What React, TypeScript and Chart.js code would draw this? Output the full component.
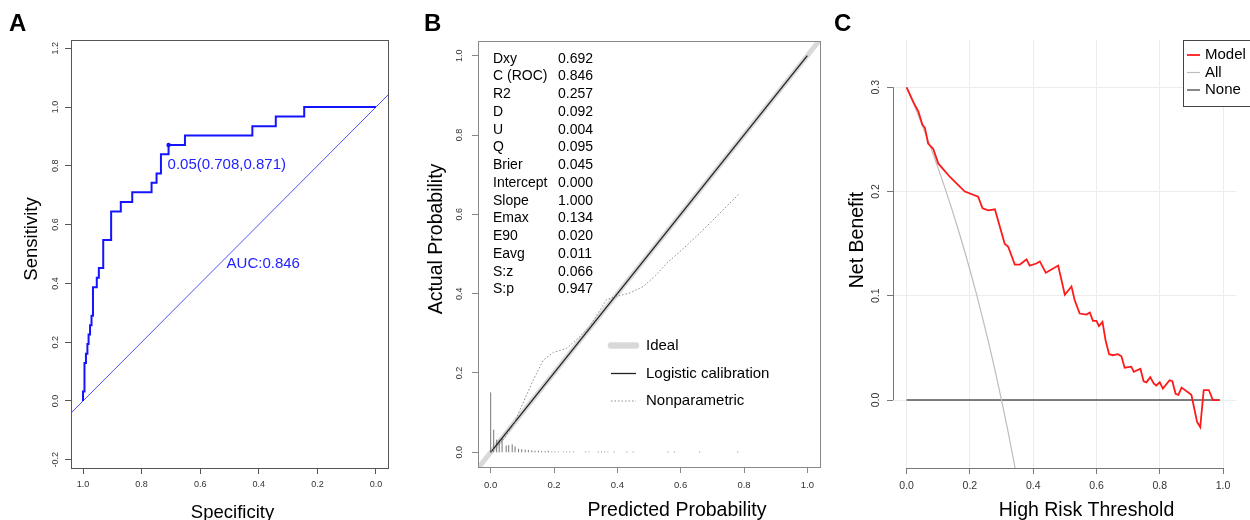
import React, { useEffect, useRef } from "react";
import { Chart, registerables } from "chart.js";

Chart.register(...registerables);

const FONT = '"Liberation Sans", Arial, Helvetica, sans-serif';

// ---------------- Panel A: ROC curve ----------------
const rocSpecificity = [1.0, 1.0, 0.995, 0.99, 0.985, 0.981, 0.976, 0.971, 0.966, 0.953, 0.946, 0.931, 0.904, 0.871, 0.832, 0.766, 0.749, 0.734, 0.708, 0.652, 0.422, 0.342, 0.245, 0.0];
const rocSensitivity = [0.0, 0.032, 0.129, 0.161, 0.194, 0.226, 0.258, 0.29, 0.387, 0.419, 0.452, 0.548, 0.645, 0.677, 0.71, 0.742, 0.774, 0.839, 0.871, 0.903, 0.935, 0.968, 1.0, 1.0];
const rocChanceSpecificity = [1.1, -0.1];
const rocChanceSensitivity = [-0.1, 1.1];
const rocThresholdSpec = 0.708;
const rocThresholdSens = 0.871;
const rocThresholdLabel = "0.05(0.708,0.871)";
const rocAucLabel = "AUC:0.846";
const rocAucAt = [0.51, 0.466];
const rocXTicks = [1.0, 0.8, 0.6, 0.4, 0.2, 0.0];
const rocYTicks = [-0.2, 0.0, 0.2, 0.4, 0.6, 0.8, 1.0, 1.2];

// ---------------- Panel B: calibration ----------------
const calIdealX = [-0.1, 1.1];
const calIdealY = [-0.1, 1.1];
const calLogisticX = [0.0, 1.0];
const calLogisticY = [0.0, 1.0];
const calNonparX = [0.0, 0.04, 0.07, 0.093, 0.135, 0.166, 0.198, 0.24, 0.282, 0.314, 0.34, 0.366, 0.398, 0.44, 0.482, 0.52, 0.556, 0.61, 0.661, 0.72, 0.785];
const calNonparY = [0.0, 0.032, 0.066, 0.108, 0.183, 0.232, 0.252, 0.262, 0.292, 0.318, 0.352, 0.385, 0.393, 0.402, 0.418, 0.445, 0.477, 0.515, 0.553, 0.6, 0.652];
const calSpikeX = [0.0, 0.0095, 0.019, 0.027, 0.036, 0.049, 0.057, 0.068, 0.077, 0.088, 0.098, 0.109, 0.119, 0.13, 0.14, 0.151, 0.161, 0.172, 0.182, 0.193, 0.203, 0.214, 0.23, 0.24, 0.25, 0.262, 0.3, 0.31, 0.34, 0.35, 0.36, 0.37, 0.39, 0.43, 0.45, 0.56, 0.58, 0.66, 0.78];
const calSpikeH = [0.151, 0.057, 0.032, 0.032, 0.036, 0.017, 0.018, 0.02, 0.015, 0.009, 0.008, 0.007, 0.006, 0.005, 0.004, 0.004, 0.003, 0.003, 0.004, 0.002, 0.002, 0.002, 0.002, 0.002, 0.002, 0.002, 0.002, 0.002, 0.002, 0.002, 0.002, 0.002, 0.002, 0.002, 0.002, 0.002, 0.002, 0.002, 0.002];
const calStatNames = ["Dxy", "C (ROC)", "R2", "D", "U", "Q", "Brier", "Intercept", "Slope", "Emax", "E90", "Eavg", "S:z", "S:p"];
const calStatValues = ["0.692", "0.846", "0.257", "0.092", "0.004", "0.095", "0.045", "0.000", "1.000", "0.134", "0.020", "0.011", "0.066", "0.947"];
const calTicks = [0.0, 0.2, 0.4, 0.6, 0.8, 1.0];

// ---------------- Panel C: decision curve ----------------
const dcaModelT = [0, 0.021, 0.037, 0.05, 0.058, 0.068, 0.084, 0.1, 0.137, 0.184, 0.226, 0.24, 0.258, 0.279, 0.31, 0.321, 0.342, 0.358, 0.379, 0.389, 0.41, 0.421, 0.44, 0.479, 0.5, 0.521, 0.531, 0.547, 0.568, 0.579, 0.589, 0.6, 0.608, 0.619, 0.629, 0.64, 0.652, 0.668, 0.679, 0.689, 0.71, 0.718, 0.739, 0.749, 0.758, 0.77, 0.781, 0.789, 0.8, 0.81, 0.831, 0.84, 0.85, 0.859, 0.869, 0.9, 0.918, 0.928, 0.939, 0.955, 0.968, 0.989];
const dcaModelNB = [0.3, 0.286, 0.277, 0.264, 0.261, 0.246, 0.241, 0.227, 0.214, 0.2, 0.195, 0.184, 0.182, 0.183, 0.15, 0.147, 0.13, 0.13, 0.135, 0.129, 0.131, 0.133, 0.122, 0.129, 0.101, 0.109, 0.096, 0.083, 0.082, 0.084, 0.076, 0.076, 0.071, 0.075, 0.057, 0.044, 0.043, 0.044, 0.042, 0.031, 0.032, 0.027, 0.03, 0.018, 0.017, 0.022, 0.016, 0.014, 0.017, 0.011, 0.019, 0.018, 0.006, 0.005, 0.012, 0.005, -0.021, -0.026, 0.0096, 0.0096, 0.0, 0.0];
const dcaAllT = [0, 0.02, 0.04, 0.06, 0.08, 0.1, 0.12, 0.14, 0.16, 0.18, 0.2, 0.22, 0.24, 0.26, 0.28, 0.3, 0.32, 0.34, 0.36];
const dcaAllNB = [0.3, 0.2857, 0.2708, 0.2553, 0.2391, 0.2222, 0.2045, 0.186, 0.1667, 0.1463, 0.125, 0.1026, 0.0789, 0.0541, 0.0278, 0.0, -0.0294, -0.0606, -0.0938];
const dcaNoneT = [0, 0.99];
const dcaNoneNB = [0, 0];
const dcaXTicks = [0.0, 0.2, 0.4, 0.6, 0.8, 1.0];
const dcaYTicks = [0.0, 0.1, 0.2, 0.3];

// ---------------- helpers ----------------
const pts = (xs: number[], ys: number[]) => xs.map((x, i) => ({ x, y: ys[i] }));

function drawRotatedTicks(ctx: CanvasRenderingContext2D, scale: any, x: number, values: number[], size: number) {
  ctx.save();
  ctx.font = `${size}px ${FONT}`;
  ctx.fillStyle = "#333";
  ctx.textAlign = "center";
  ctx.textBaseline = "middle";
  values.forEach((v) => {
    ctx.save();
    ctx.translate(x, scale.getPixelForValue(v));
    ctx.rotate(-Math.PI / 2);
    ctx.fillText(v.toFixed(1), 0, 0);
    ctx.restore();
  });
  ctx.restore();
}

// axis titles: t = {x, xCenter, xBase, y, yCenter, yBase, size}
function drawTitles(ctx: CanvasRenderingContext2D, t: any) {
  ctx.save();
  ctx.fillStyle = "#000";
  ctx.font = `${t.size}px ${FONT}`;
  ctx.textAlign = "center";
  ctx.textBaseline = "alphabetic";
  ctx.fillText(t.x, t.xCenter, t.xBase);
  ctx.translate(t.yBase, t.yCenter);
  ctx.rotate(-Math.PI / 2);
  ctx.fillText(t.y, 0, 0);
  ctx.restore();
}

function xScale(o: any) {
  return {
    type: "linear",
    min: o.min,
    max: o.max,
    reverse: !!o.reverse,
    afterBuildTicks: (s: any) => { s.ticks = o.ticks.map((v: number) => ({ value: v })); },
    afterFit: (s: any) => { s.height = o.height; },
    border: { display: false },
    grid: { drawOnChartArea: !!o.gridColor, color: o.gridColor || o.tickColor, tickColor: o.tickColor, drawTicks: true, tickLength: 6, lineWidth: 1 },
    ticks: { autoSkip: false, maxRotation: 0, minRotation: 0, padding: o.tickPad, color: "#333", font: { family: FONT, size: o.tickSize }, callback: (v: any) => Number(v).toFixed(1) },
    title: { display: false },
  };
}

function yScale(o: any) {
  return {
    type: "linear",
    min: o.min,
    max: o.max,
    afterBuildTicks: (s: any) => { s.ticks = o.ticks.map((v: number) => ({ value: v })); },
    afterFit: (s: any) => { s.width = o.width; },
    border: { display: false },
    grid: { drawOnChartArea: !!o.gridColor, color: o.gridColor || o.tickColor, tickColor: o.tickColor, drawTicks: true, tickLength: 6, lineWidth: 1 },
    ticks: { display: false },
    title: { display: false },
  };
}

const commonOptions = (padding: any, scales: any) => ({
  animation: false,
  responsive: false,
  maintainAspectRatio: false,
  layout: { padding },
  plugins: { legend: { display: false }, tooltip: { enabled: false } },
  elements: { point: { radius: 0 }, line: { tension: 0 } },
  scales,
});

// ---------------- Panel A config ----------------
function buildA(): any {
  const plugin = {
    id: "panelA",
    afterDraw(chart: any) {
      const { ctx, chartArea: a, scales } = chart;
      const { x, y } = scales;
      ctx.save();
      ctx.strokeStyle = "#555";
      ctx.lineWidth = 1;
      ctx.strokeRect(Math.round(a.left) + 0.5, Math.round(a.top) + 0.5, Math.round(a.right - a.left), Math.round(a.bottom - a.top));
      drawRotatedTicks(ctx, y, a.left - 15, rocYTicks, 9);
      ctx.fillStyle = "#2222ff";
      ctx.font = `15px ${FONT}`;
      ctx.textAlign = "left";
      ctx.textBaseline = "middle";
      ctx.fillText(rocThresholdLabel, x.getPixelForValue(rocThresholdSpec) - 1, y.getPixelForValue(rocThresholdSens) + 20);
      ctx.fillText(rocAucLabel, x.getPixelForValue(rocAucAt[0]), y.getPixelForValue(rocAucAt[1]));
      ctx.restore();
      drawTitles(ctx, { x: "Specificity", xCenter: (a.left + a.right) / 2 + 3, xBase: 518, y: "Sensitivity", yCenter: 239, yBase: 37, size: 18.5 });
    },
  };
  return {
    type: "scatter",
    data: {
      datasets: [
        { label: "threshold", data: [{ x: rocThresholdSpec, y: rocThresholdSens }], pointRadius: 2.2, pointBackgroundColor: "#1414ff", pointBorderWidth: 0 },
        { label: "ROC", data: pts(rocSpecificity, rocSensitivity), showLine: true, stepped: "before", borderColor: "#1414ff", borderWidth: 2, pointRadius: 0 },
        { label: "chance", data: pts(rocChanceSpecificity, rocChanceSensitivity), showLine: true, borderColor: "#5050ff", borderWidth: 1, pointRadius: 0 },
      ],
    },
    options: commonOptions({ left: 0, top: 40, right: 22, bottom: 0 }, {
      x: xScale({ min: -0.041, max: 1.041, reverse: true, ticks: rocXTicks, height: 52, tickColor: "#555", tickPad: 5, tickSize: 9 }),
      y: yScale({ min: -0.228, max: 1.228, ticks: rocYTicks, width: 71, tickColor: "#555" }),
    }),
    plugins: [plugin],
  };
}

// ---------------- Panel B config ----------------
function buildB(): any {
  const plugin = {
    id: "panelB",
    afterDraw(chart: any) {
      const { ctx, chartArea: a, scales } = chart;
      const { y } = scales;
      const ds = chart.data.datasets;
      ctx.save();
      ctx.strokeStyle = "#888";
      ctx.lineWidth = 1;
      ctx.strokeRect(Math.round(a.left) + 0.5, Math.round(a.top) + 0.5, Math.round(a.right - a.left), Math.round(a.bottom - a.top));
      drawRotatedTicks(ctx, y, a.left - 18, calTicks, 9);
      // statistics table
      ctx.fillStyle = "#000";
      ctx.font = `14px ${FONT}`;
      ctx.textAlign = "left";
      ctx.textBaseline = "middle";
      calStatNames.forEach((n, i) => {
        const yy = a.top + 17.8 + i * 17.75;
        ctx.fillText(n, a.left + 15, yy);
        ctx.fillText(calStatValues[i], a.left + 80, yy);
      });
      // legend
      const lx0 = a.left + 133, lx1 = a.left + 158, tx = a.left + 168;
      const rows = [
        { text: "Ideal", d: ds[3], y: a.top + 304.5 },
        { text: "Logistic calibration", d: ds[1], y: a.top + 332.5 },
        { text: "Nonparametric", d: ds[0], y: a.top + 360 },
      ];
      ctx.font = `15px ${FONT}`;
      rows.forEach((r) => {
        ctx.save();
        ctx.strokeStyle = r.d.borderColor;
        ctx.lineWidth = r.d.borderWidth + (r.text === "Ideal" ? 1.5 : 0);
        ctx.lineCap = r.d.borderCapStyle || "butt";
        ctx.setLineDash(r.d.borderDash || []);
        ctx.beginPath();
        ctx.moveTo(lx0, r.y);
        ctx.lineTo(lx1, r.y);
        ctx.stroke();
        ctx.restore();
        ctx.fillText(r.text, tx, r.y);
      });
      ctx.restore();
      drawTitles(ctx, { x: "Predicted Probability", xCenter: (a.left + a.right) / 2 + 28, xBase: 516, y: "Actual Probability", yCenter: 239, yBase: 32, size: 19.5 });
    },
  };
  const spikes: any[] = [];
  calSpikeX.forEach((p, i) => {
    spikes.push({ x: p, y: 0 }, { x: p, y: calSpikeH[i] }, { x: p, y: null });
  });
  return {
    type: "scatter",
    data: {
      datasets: [
        { label: "Nonparametric", data: pts(calNonparX, calNonparY), showLine: true, borderColor: "#8a8a8a", borderWidth: 1, borderDash: [1.5, 2], pointRadius: 0 },
        { label: "Logistic calibration", data: pts(calLogisticX, calLogisticY), showLine: true, borderColor: "#222", borderWidth: 1.3, pointRadius: 0 },
        { label: "spikes", data: spikes, showLine: true, spanGaps: false, borderColor: "#777", borderWidth: 1, pointRadius: 0 },
        { label: "Ideal", data: pts(calIdealX, calIdealY), showLine: true, borderColor: "#d9d9d9", borderWidth: 5, borderCapStyle: "round", pointRadius: 0 },
      ],
    },
    options: commonOptions({ left: 0, top: 41, right: 10, bottom: 0 }, {
      x: xScale({ min: -0.04, max: 1.04, ticks: calTicks, height: 53, tickColor: "#888", tickPad: 7, tickSize: 9.5 }),
      y: yScale({ min: -0.037, max: 1.037, ticks: calTicks, width: 68, tickColor: "#888" }),
    }),
    plugins: [plugin],
  };
}

// ---------------- Panel C config ----------------
function buildC(): any {
  const plugin = {
    id: "panelC",
    afterDraw(chart: any) {
      const { ctx, chartArea: a, scales } = chart;
      const { x, y } = scales;
      ctx.save();
      ctx.strokeStyle = "#777";
      ctx.lineWidth = 1;
      const lx = Math.round(a.left) + 0.5;
      const by = Math.round(a.bottom) + 0.5;
      ctx.beginPath();
      ctx.moveTo(lx, y.getPixelForValue(dcaYTicks[0]));
      ctx.lineTo(lx, y.getPixelForValue(dcaYTicks[dcaYTicks.length - 1]));
      ctx.moveTo(x.getPixelForValue(dcaXTicks[0]), by);
      ctx.lineTo(x.getPixelForValue(dcaXTicks[dcaXTicks.length - 1]), by);
      ctx.stroke();
      drawRotatedTicks(ctx, y, a.left - 17, dcaYTicks, 10.5);
      // legend
      const ds = chart.data.datasets;
      const bx = 353, bt = 40.5, bb = 106.5;
      ctx.fillStyle = "#fff";
      ctx.fillRect(bx, bt, 80, bb - bt);
      ctx.strokeStyle = "#444";
      ctx.strokeRect(bx + 0.5, bt, 80, bb - bt);
      ctx.font = `15px ${FONT}`;
      ctx.textAlign = "left";
      ctx.textBaseline = "middle";
      ds.forEach((d: any, i: number) => {
        const yy = 55 + i * 17.5;
        ctx.strokeStyle = d.borderColor;
        ctx.lineWidth = d.borderWidth;
        ctx.beginPath();
        ctx.moveTo(bx + 4, yy);
        ctx.lineTo(bx + 17, yy);
        ctx.stroke();
        ctx.fillStyle = "#000";
        ctx.fillText(d.label, bx + 22, yy);
      });
      ctx.restore();
      drawTitles(ctx, { x: "High Risk Threshold", xCenter: (a.left + a.right) / 2 + 22, xBase: 516, y: "Net Benefit", yCenter: 240, yBase: 33, size: 19.5 });
    },
  };
  return {
    type: "scatter",
    data: {
      datasets: [
        { label: "Model", data: pts(dcaModelT, dcaModelNB), showLine: true, borderColor: "#ff1a1a", borderWidth: 1.8, pointRadius: 0 },
        { label: "All", data: pts(dcaAllT, dcaAllNB), showLine: true, borderColor: "#bdbdbd", borderWidth: 1.2, pointRadius: 0 },
        { label: "None", data: pts(dcaNoneT, dcaNoneNB), showLine: true, borderColor: "#555", borderWidth: 1.4, pointRadius: 0 },
      ],
    },
    options: commonOptions({ left: 0, top: 40, right: 14, bottom: 0 }, {
      x: xScale({ min: -0.043, max: 1.041, ticks: dcaXTicks, height: 52, tickColor: "#777", gridColor: "#ececec", tickPad: 6, tickSize: 10.5 }),
      y: yScale({ min: -0.0652, max: 0.3454, ticks: dcaYTicks, width: 63, tickColor: "#777", gridColor: "#ececec" }),
    }),
    plugins: [plugin],
  };
}

function Panel({ left, width, build }: { left: number; width: number; build: () => any }) {
  const ref = useRef<HTMLCanvasElement | null>(null);
  useEffect(() => {
    const chart = new Chart(ref.current as HTMLCanvasElement, build());
    return () => chart.destroy();
  }, []);
  return (
    <canvas
      ref={ref}
      width={width}
      height={520}
      style={{ position: "absolute", left, top: 0, width, height: 520, display: "block" }}
    />
  );
}

const letterStyle = (left: number): React.CSSProperties => ({
  position: "absolute",
  left,
  top: 11,
  font: `bold 24px ${FONT}`,
  lineHeight: "24px",
  color: "#000",
});

export default function App() {
  return (
    <div style={{ position: "absolute", left: 0, top: 0, width: 1250, height: 520, background: "#fff", overflow: "hidden" }}>
      <Panel left={0} width={410} build={buildA} />
      <Panel left={410} width={420} build={buildB} />
      <Panel left={830} width={420} build={buildC} />
      <div style={letterStyle(9)}>A</div>
      <div style={letterStyle(424)}>B</div>
      <div style={letterStyle(834)}>C</div>
    </div>
  );
}
